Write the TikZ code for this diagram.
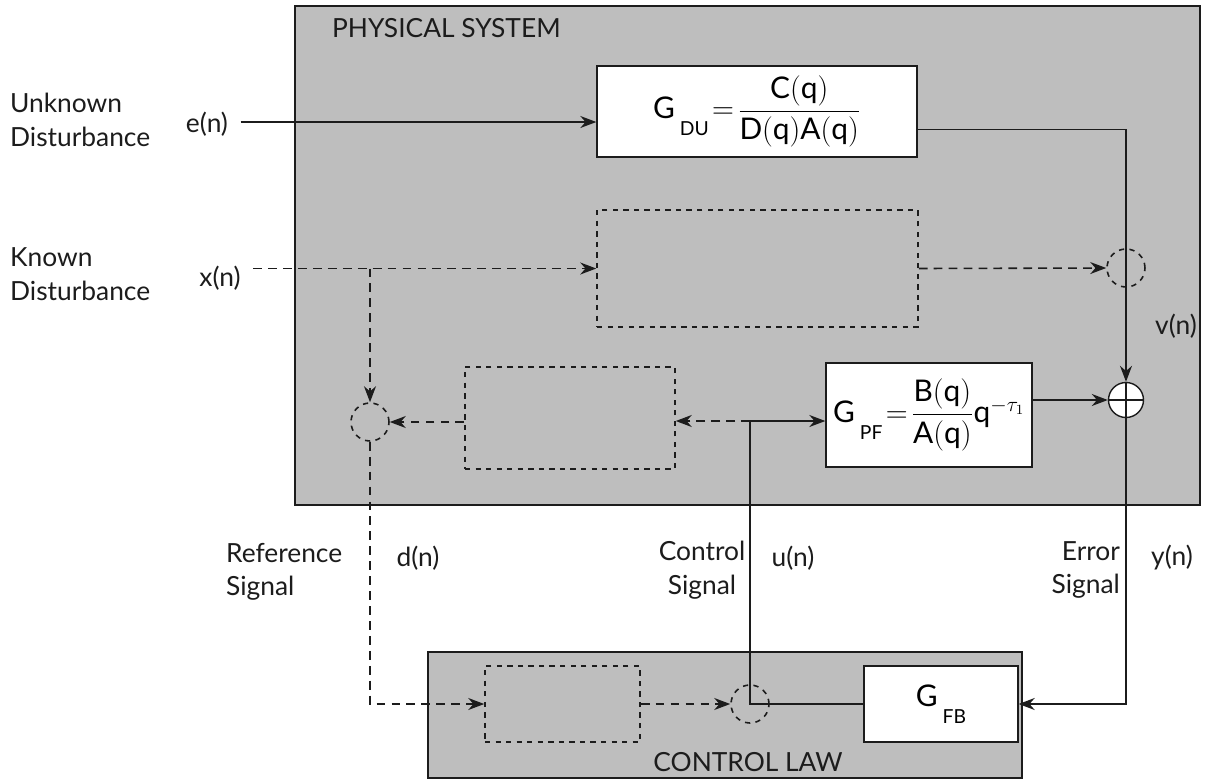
\documentclass[tikz,border=0pt]{standalone}
\usepackage{fontspec}
\setmainfont{Lato}
\setsansfont{Lato}
\usepackage{amsmath}
\usetikzlibrary{arrows.meta,positioning}
\definecolor{ink}{HTML}{1C1C1C}
\definecolor{stipple}{HTML}{BEBEBE}
\newcommand{\lowsub}[1]{\,{\lower1.1ex\hbox{\fontsize{11}{13}\selectfont #1}}}
\tikzset{
  region/.style={
    rectangle, draw=ink, fill=stipple, thick, inner sep=0pt
  },
  block/.style={
    rectangle, draw=ink, fill=white, thick,
    font=\fontsize{17}{20}\selectfont, align=center, inner sep=0pt
  },
  ghostbox/.style={
    rectangle, draw=ink, dashed, line width=0.9pt, inner sep=0pt
  },
  ghostsum/.style={
    circle, draw=ink, dashed, line width=0.9pt, minimum size=0.76cm, inner sep=0pt
  },
  sumnode/.style={
    circle, draw=ink, fill=white, thick, minimum size=0.7cm, inner sep=0pt,
    path picture={
      \draw[thick] (path picture bounding box.north) -- (path picture bounding box.south)
                   (path picture bounding box.west) -- (path picture bounding box.east);}
  },
  lbl/.style={
    font=\fontsize{15}{19}\selectfont, text=ink, inner sep=1pt
  },
  tag/.style={
    font=\fontsize{15}{18}\selectfont, text=ink, inner sep=1pt
  },
  % ── connectors ──
  sig/.style={
    -{Stealth[length=0.32cm, width=0.24cm]}, line width=0.9pt, color=ink
  },
  dsig/.style={
    sig, dash pattern=on 5pt off 3.5pt
  },
  wire/.style={line width=0.9pt, color=ink},
}

\begin{document}
\begin{tikzpicture}[x=0.02cm, y=-0.02cm]
\useasboundingbox (0,0) rectangle (1208,782);

% regions
\node[region, minimum width=18.1cm, minimum height=9.98cm] (phys) at (747.5,255.5) {};
\node[region, minimum width=11.88cm, minimum height=2.52cm] (law) at (725,715) {};
\node[tag, anchor=west] (physname) at (330,28) {PHYSICAL SYSTEM};
\node[tag] (lawname) at (748,762) {CONTROL LAW};

% blocks
\node[block, minimum width=6.4cm, minimum height=1.82cm] (gdu) at (757,111.5)
  {$\mathsf{G}\lowsub{DU}\!=\!\dfrac{\mathsf{C(q)}}{\mathsf{D(q)A(q)}}$};
\node[ghostbox, minimum width=6.42cm, minimum height=2.34cm] (ghA) at (757.5,268.5) {};
\node[block, minimum width=4.12cm, minimum height=2.08cm] (gpf) at (929,415)
  {$\mathsf{G}\lowsub{PF}\!=\!\dfrac{\mathsf{B(q)}}{\mathsf{A(q)}}\mathsf{q}^{-\tau_1}$};
\node[ghostbox, minimum width=4.2cm, minimum height=2.04cm] (ghB) at (570,418) {};
\node[ghostbox, minimum width=3.1cm, minimum height=1.52cm] (ghC) at (562.5,704) {};
\node[block, minimum width=3.08cm, minimum height=1.52cm] (gfb) at (941,704)
  {$\mathsf{G}\lowsub{FB}$};

% junctions
\node[ghostsum] (sumA) at (1126,268) {};
\node[sumnode] (plus) at (1126,400) {};
\node[ghostsum] (sumL) at (370,422) {};
\node[ghostsum] (sumC) at (750,704) {};
\coordinate (jct) at (750,421);

% inputs
\node[lbl] (en) at (207,124) {e(n)};
\node[lbl, align=left, anchor=west] (unk) at (8,120) {Unknown\\Disturbance};
\node[lbl] (xn) at (220,278) {x(n)};
\node[lbl, align=left, anchor=west] (knw) at (8,274) {Known\\Disturbance};
\node[lbl] (vn) at (1176,326) {v(n)};

% signal names
\node[lbl, align=left, anchor=west] (refsig) at (224,572) {Reference\\Signal};
\node[lbl] (dn) at (418,558) {d(n)};
\node[lbl, align=center] (ctlsig) at (702,570) {Control\\Signal};
\node[lbl] (un) at (793,558) {u(n)};
\node[lbl, align=right, anchor=east] (errsig) at (1122,570) {Error\\Signal};
\node[lbl] (yn) at (1172,558) {y(n)};

% connectors
\draw[sig, shorten <=6pt] (en.east |- 0,122) -- (gdu.west |- 0,122);
\draw[sig] ([yshift=-0.36cm]gdu.east) -| (plus.north);
\draw[dsig, shorten <=6pt] (xn.east |- ghA) -- (ghA.west);
\draw[dsig] (sumL |- ghA.west) -- (sumL.north);
\draw[dsig] (ghA.east) -- (sumA.west);
\draw[sig] (gpf.east |- plus) -- (plus.west);
\draw[sig] (jct) -- (jct -| gpf.west);
\draw[dsig] (jct) -- (jct -| ghB.east);
\draw[wire] (gfb.west) -- (sumC.center) -- (jct);
\draw[dsig] (sumL -| ghB.west) -- (sumL.east);
\draw[dsig] (sumL.south) |- (ghC.west);
\draw[dsig] (ghC.east) -- (sumC.west);
\draw[sig] (plus.south) |- (gfb.east);

\end{tikzpicture}
\end{document}
